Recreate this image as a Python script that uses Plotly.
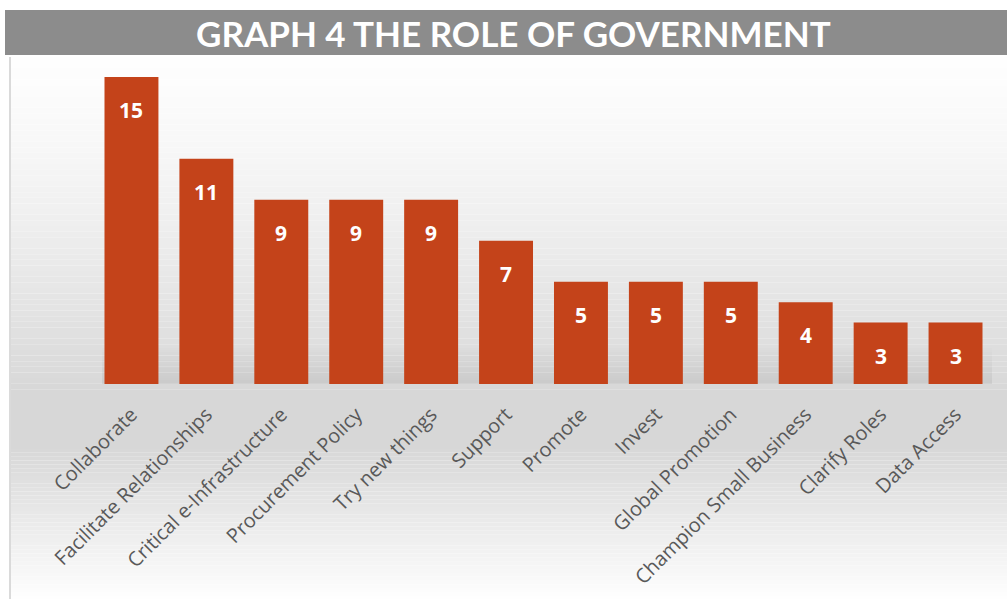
import plotly.graph_objects as go

categories = ["Collaborate", "Facilitate Relationships", "Critical e-Infrastructure",
              "Procurement Policy", "Try new things", "Support", "Promote", "Invest",
              "Global Promotion", "Champion Small Business", "Clarify Roles", "Data Access"]
values = [15, 11, 9, 9, 9, 7, 5, 5, 5, 4, 3, 3]

W, H = 1007, 599
L, R, T, B = 94, 14, 77, 215
pw, ph = W - L - R, H - T - B

def px2x(px):
    return (px - L) / pw

def py2y(py):
    return (H - B - py) / ph

def mix(c1, c2, t):
    return "rgb(%d,%d,%d)" % tuple(round(a + (b - a) * t) for a, b in zip(c1, c2))

shapes = []
white = (254, 254, 254)
gray = (215, 215, 215)

def band(y_from, y_to, t_from, t_to, n=40, power=1.0):
    for i in range(n):
        y0 = y_from + (y_to - y_from) * i / n
        y1 = y_from + (y_to - y_from) * (i + 1) / n
        f = ((i + 0.5) / n) ** power
        t = t_from + (t_to - t_from) * f
        shapes.append(dict(type="rect", xref="paper", yref="paper", layer="below",
                           x0=px2x(10), x1=px2x(W + 2), y0=py2y(y1), y1=py2y(y0),
                           fillcolor=mix(white, gray, t), line=dict(width=0)))

# background gradient: white at top, grey around the baseline, white at bottom
band(57, 395, 0.0, 1.0, n=60, power=1.3)
band(395, 445, 1.0, 1.0, n=2)
band(445, 600, 1.0, 0.0, n=40, power=1.0)

# soft shadow near the baseline
for i in range(10):
    y0 = 344 + 4 * i
    shapes.append(dict(type="rect", xref="paper", yref="paper", layer="below",
                       x0=px2x(102), x1=px2x(992), y0=py2y(y0 + 4), y1=py2y(y0),
                       fillcolor="rgba(0,0,0,%.3f)" % (0.007 * i), line=dict(width=0)))

# left border line
shapes.append(dict(type="line", xref="paper", yref="paper", layer="below",
                   x0=px2x(10), x1=px2x(10), y0=py2y(57), y1=py2y(H),
                   line=dict(color="#dadada", width=2)))
# title bar
shapes.append(dict(type="rect", xref="paper", yref="paper", layer="below",
                   x0=px2x(5), x1=px2x(W + 2), y0=py2y(55), y1=py2y(10),
                   fillcolor="#8c8c8c", line=dict(width=0)))

fig = go.Figure()
fig.add_trace(go.Bar(
    x=categories, y=values,
    marker=dict(color="#c4431a", line=dict(width=0)),
    hoverinfo="skip",
))

annotations = [dict(x=c, y=v, xref="x", yref="y", text="<b>%d</b>" % v, showarrow=False,
                    yanchor="middle", yshift=-33,
                    font=dict(family="Open Sans", size=21, color="white"))
               for c, v in zip(categories, values)]
annotations.append(dict(x=px2x(513), y=py2y(33), xref="paper", yref="paper",
                        xanchor="center", yanchor="middle",
                        text="<b>GRAPH 4 THE ROLE OF GOVERNMENT</b>", showarrow=False,
                        font=dict(family="Lato", size=35, color="white")))

fig.update_layout(
    width=W, height=H,
    margin=dict(l=L, r=R, t=T, b=B, pad=0, autoexpand=False),
    paper_bgcolor="white", plot_bgcolor="rgba(0,0,0,0)",
    bargap=0.28, showlegend=False,
    shapes=shapes, annotations=annotations,
    xaxis=dict(tickangle=-45, tickfont=dict(family="Open Sans", size=20, color="#595959"),
               showline=False, showgrid=False, ticks="", ticklabelstandoff=14,
               automargin=False, fixedrange=True),
    yaxis=dict(range=[0, 15], visible=False, showgrid=False, zeroline=False,
               automargin=False, fixedrange=True),
)

fig.write_html("out.html", config={"displayModeBar": False})
